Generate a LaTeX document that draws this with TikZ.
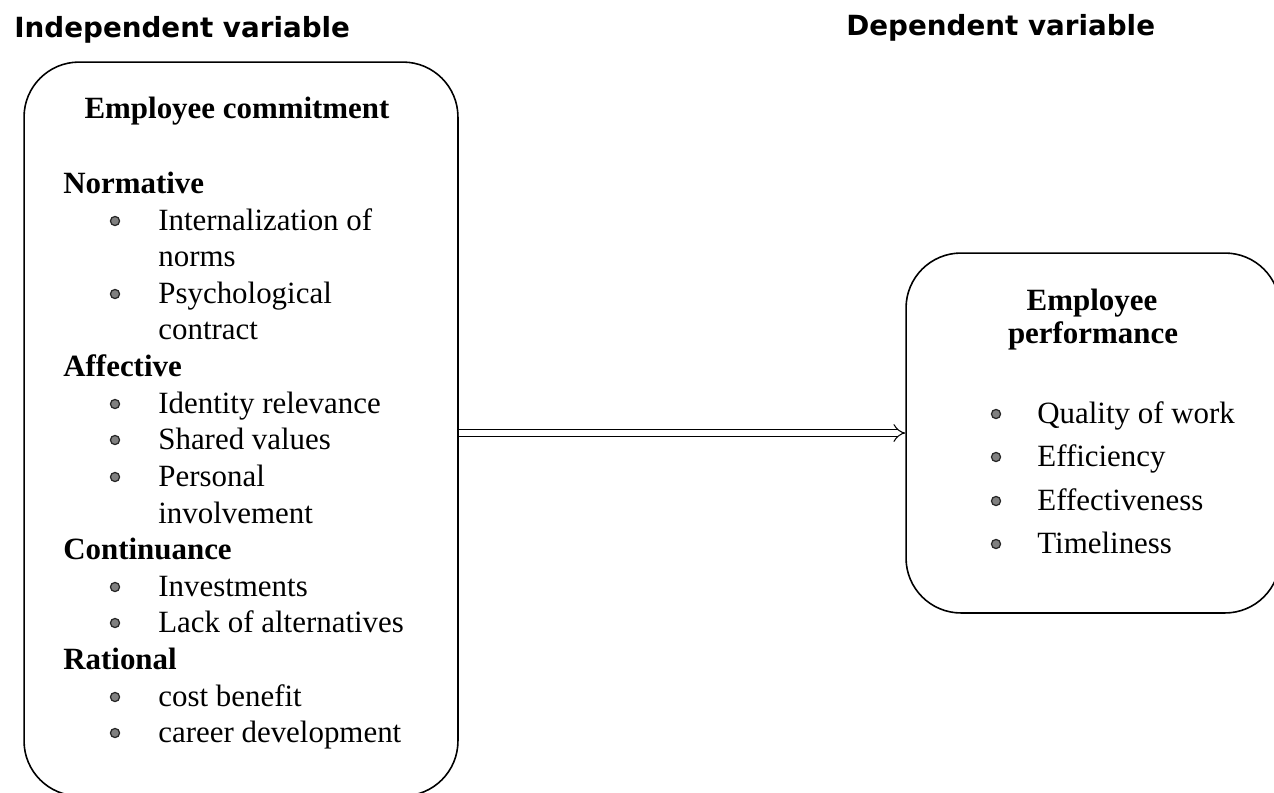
\documentclass[tikz,border=0pt]{standalone}
\usepackage{fontspec}
\setmainfont{Liberation Serif}
\newfontfamily\titlefont{DejaVu Sans}
\usetikzlibrary{arrows.meta}
\tikzset{
  frame/.style    = {rectangle, draw, line width=0.9pt, rounded corners=1.1cm, inner sep=0},
  vartitle/.style = {anchor=base west, inner sep=0, font=\titlefont\fontsize{15.8}{18}\selectfont\bfseries},
  boxhead/.style  = {anchor=base, inner sep=0, font=\fontsize{17.6}{21}\selectfont\bfseries},
  dim/.style      = {anchor=base west, inner sep=0, font=\fontsize{17.6}{21}\selectfont\bfseries},
  item/.style     = {anchor=base west, inner sep=0, font=\fontsize{17.6}{21}\selectfont},
  dot/.style      = {circle, draw=black!85, fill=black!50, line width=0.7pt, minimum size=5.2pt, inner sep=0},
  impl/.style     = {double, double distance=3pt, line width=0.6pt, -{Implies}}
}

\begin{document}
\begin{tikzpicture}[x=0.02cm, y=-0.02cm]
  \useasboundingbox (0,0) rectangle (1274,792);
  % titles
  \node[vartitle] (tind) at (14,37) {Independent variable};
  \node[vartitle] (tdep) at (846,35) {Dependent variable};
  % the two boxes
  \node[frame, minimum width=8.68cm, minimum height=14.68cm] (lbox) at (241,429) {};
  \node[frame, minimum width=7.48cm, minimum height=7.2cm]   (rbox) at (1093,433) {};
  % independent variable
  \node[boxhead] (ec) at (237,118) {Employee commitment};
  \foreach \y/\t [count=\i] in {193/Normative, 376/Affective, 559/Continuance, 669/Rational}
    \node[dim] (dim\i) at (63,\y) {\t};
  \foreach \y/\t [count=\i] in {230/Internalization of, 303/Psychological, 413/Identity relevance,
      449/Shared values, 486/Personal, 596/Investments, 632/Lack of alternatives,
      706/cost benefit, 742/career development}{
    \node[dot]  (ld\i) at (115,\y-9) {};
    \node[item] (li\i) at (158,\y) {\t};
  }
  \foreach \y/\t [count=\i] in {266/norms, 339/contract, 523/involvement}
    \node[item] (lc\i) at (158,\y) {\t};
  % dependent variable
  \node[boxhead] (ep1) at (1092,310) {Employee};
  \node[boxhead] (ep2) at (1093,343) {performance};
  \foreach \y/\t [count=\i] in {423/Quality of work, 466/Efficiency, 510/Effectiveness, 553/Timeliness}{
    \node[dot]  (rd\i) at (996,\y-9) {};
    \node[item] (ri\i) at (1037,\y) {\t};
  }
  % link
  \draw[impl] (rbox.west -| lbox.east) -- (rbox.west);
\end{tikzpicture}
\end{document}
